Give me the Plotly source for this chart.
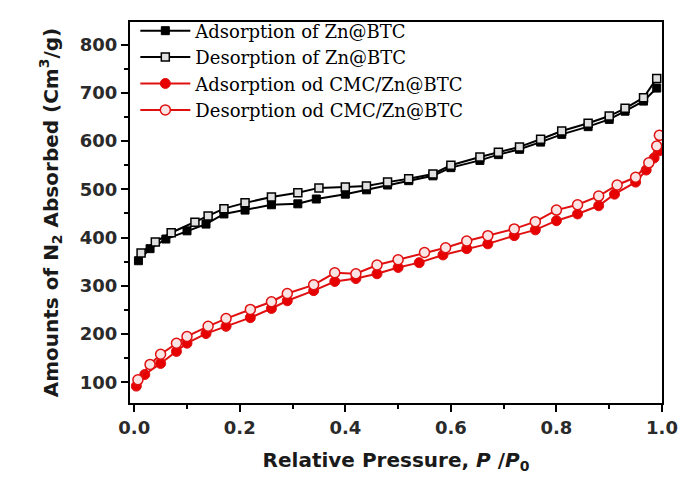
import plotly.graph_objects as go

# Zn@BTC adsorption (filled squares)
zn_ads_x = [0.008, 0.03, 0.06, 0.10, 0.136, 0.17, 0.21, 0.26, 0.31, 0.345, 0.40, 0.44, 0.48, 0.52,
            0.566, 0.60, 0.655, 0.69, 0.73, 0.77, 0.81, 0.86, 0.90, 0.93, 0.965, 0.99]
zn_ads_y = [352, 377, 397, 414, 428, 449, 457, 468, 470, 480, 490, 499, 509, 518,
            528, 545, 560, 572, 583, 598, 614, 630, 645, 662, 683, 710]
# Zn@BTC desorption (open squares)
zn_des_x = [0.013, 0.04, 0.07, 0.115, 0.14, 0.17, 0.21, 0.26, 0.31, 0.35, 0.40, 0.44, 0.48, 0.52,
            0.566, 0.60, 0.655, 0.69, 0.73, 0.77, 0.81, 0.86, 0.90, 0.93, 0.965, 0.99]
zn_des_y = [368, 391, 410, 432, 445, 460, 472, 484, 493, 503, 505, 507, 515, 522,
            532, 550, 567, 577, 588, 604, 621, 637, 652, 668, 690, 730]
# CMC/Zn@BTC adsorption (filled circles)
cmc_ads_x = [0.004, 0.02, 0.05, 0.08, 0.10, 0.136, 0.174, 0.22, 0.26, 0.29, 0.34, 0.38, 0.42, 0.46,
             0.50, 0.54, 0.585, 0.63, 0.67, 0.72, 0.76, 0.80, 0.84, 0.88, 0.91, 0.95, 0.97, 0.985, 0.995]
cmc_ads_y = [92, 116, 139, 164, 181, 201, 216, 234, 253, 269, 290, 309, 315, 325,
             338, 348, 364, 377, 387, 404, 416, 435, 449, 466, 490, 515, 540, 565, 580]
# CMC/Zn@BTC desorption (open circles)
cmc_des_x = [0.007, 0.03, 0.05, 0.08, 0.10, 0.14, 0.174, 0.22, 0.26, 0.29, 0.34, 0.38, 0.42, 0.46,
             0.50, 0.55, 0.59, 0.63, 0.67, 0.72, 0.76, 0.80, 0.84, 0.88, 0.915, 0.95, 0.975, 0.99, 0.995]
cmc_des_y = [105, 137, 158, 181, 195, 216, 232, 251, 267, 284, 302, 327, 325, 343,
             354, 369, 379, 393, 404, 418, 433, 457, 468, 486, 509, 525, 555, 590, 612]

names = ["Adsorption of Zn@BTC", "Desorption of Zn@BTC",
         "Adsorption od CMC/Zn@BTC", "Desorption od CMC/Zn@BTC"]

x_ticks = [0.0, 0.2, 0.4, 0.6, 0.8, 1.0]
x_tick_text = ["0.0", "0.2", "0.4", "0.6", "0.8", "1.0"]
y_ticks = [100, 200, 300, 400, 500, 600, 700, 800]

fig = go.Figure()
fig.add_trace(go.Scatter(x=zn_ads_x, y=zn_ads_y, name=names[0], mode="lines+markers",
                         line=dict(color="black", width=2),
                         marker=dict(symbol="square", size=8, color="black",
                                     line=dict(color="black", width=1))))
fig.add_trace(go.Scatter(x=zn_des_x, y=zn_des_y, name=names[1], mode="lines+markers",
                         line=dict(color="black", width=2),
                         marker=dict(symbol="square", size=8, color="#e0e0e0",
                                     line=dict(color="black", width=1.5))))
fig.add_trace(go.Scatter(x=cmc_ads_x, y=cmc_ads_y, name=names[2], mode="lines+markers",
                         line=dict(color="#e01010", width=2),
                         marker=dict(symbol="circle", size=10, color="#e60000",
                                     line=dict(color="#e01010", width=1))))
fig.add_trace(go.Scatter(x=cmc_des_x, y=cmc_des_y, name=names[3], mode="lines+markers",
                         line=dict(color="#e01010", width=2),
                         marker=dict(symbol="circle", size=10, color="#fbe4e4",
                                     line=dict(color="#e01010", width=1.5))))

sans = "DejaVu Sans, Arial, sans-serif"
tick_font = dict(family=sans, size=18, color="#2a2a2a", weight="bold")
title_font = dict(family=sans, size=20, color="#1a1a1a", weight="bold")

fig.update_layout(
    width=678, height=483,
    margin=dict(l=130, r=16, t=19, b=80),
    paper_bgcolor="white", plot_bgcolor="white",
    showlegend=True,
    legend=dict(x=0.01, y=1.025, xanchor="left", yanchor="top",
                bgcolor="rgba(0,0,0,0)", borderwidth=0,
                font=dict(family="DejaVu Serif, serif", size=18, color="black"),
                tracegroupgap=0, itemwidth=50),
    xaxis=dict(range=[-0.008, 1.0], tickvals=x_ticks, ticktext=x_tick_text, automargin=False,
               showgrid=False, zeroline=False, showline=True, linecolor="black", linewidth=2,
               mirror=True, ticks="outside", ticklen=7, tickwidth=2, tickcolor="black",
               minor=dict(ticks="outside", ticklen=4, tickwidth=2, tickcolor="black", dtick=0.1, tick0=0),
               tickfont=tick_font,
               title=dict(text="Relative Pressure, <i>P</i> /<i>P</i><sub>0</sub>",
                          font=title_font, standoff=16)),
    yaxis=dict(range=[57, 847], tickvals=y_ticks, automargin=False,
               showgrid=False, zeroline=False, showline=True, linecolor="black", linewidth=2,
               mirror=True, ticks="outside", ticklen=7, tickwidth=2, tickcolor="black",
               minor=dict(ticks="outside", ticklen=4, tickwidth=2, tickcolor="black", dtick=50, tick0=0),
               tickfont=tick_font,
               title=dict(text="Amounts of N<sub>2</sub> Absorbed (Cm<sup>3</sup>/g)",
                          font=title_font, standoff=16)),
)

fig.write_html("out.html")
